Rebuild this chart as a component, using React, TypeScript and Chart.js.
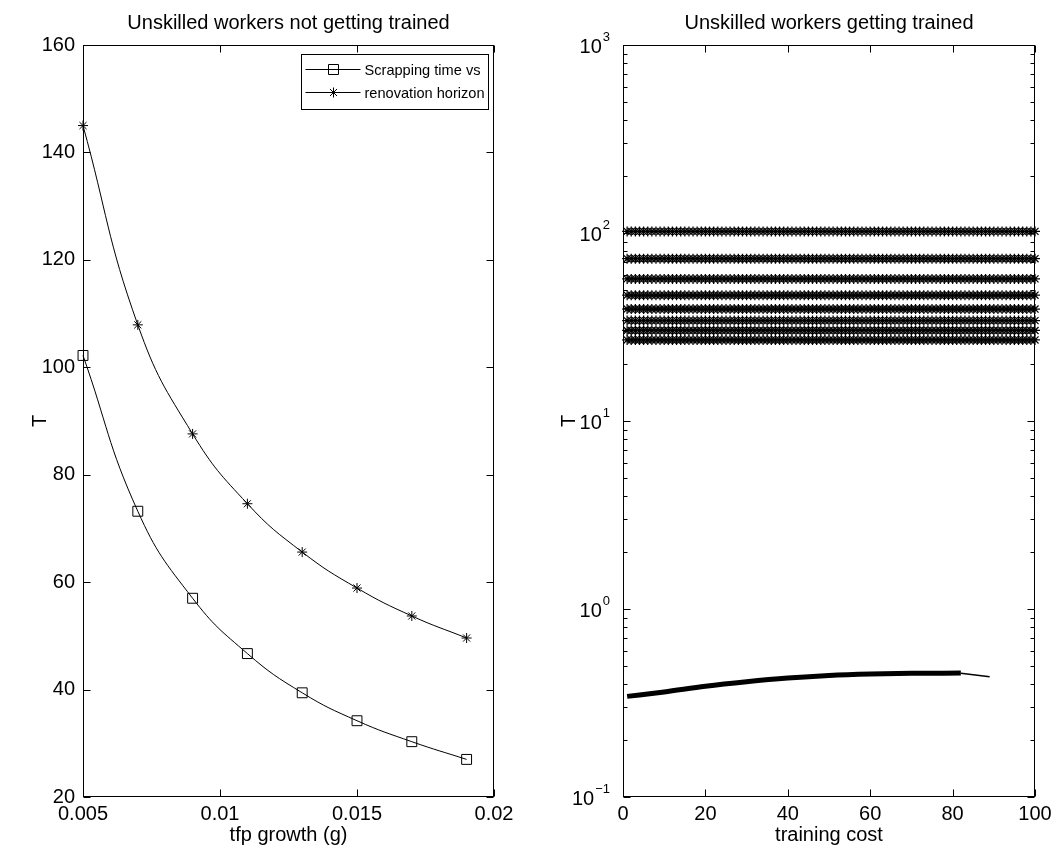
import React, { useEffect, useRef } from 'react';
import { Chart, registerables } from 'chart.js';

Chart.register(...registerables);

const FONT = "'Liberation Sans', Arial, Helvetica, sans-serif";

// ---------- Left panel: unskilled workers not getting trained ----------
const tfpGrowth = [0.005, 0.007, 0.009, 0.011, 0.013, 0.015, 0.017, 0.019];
const scrappingTime = [102.2, 73.2, 57.0, 46.7, 39.4, 34.2, 30.3, 27.0];
const renovationHorizon = [145.0, 107.9, 87.6, 74.6, 65.6, 58.9, 53.7, 49.6];
const leftXTicks = [0.005, 0.01, 0.015, 0.02];
const leftYTicks = [20, 40, 60, 80, 100, 120, 140, 160];
const legendLabels = ['Scrapping time vs', 'renovation horizon'];

// ---------- Right panel: unskilled workers getting trained ----------
const trainingCosts = Array.from({ length: 100 }, (_, i) => i + 1);
const trainedLevels = [102.0, 73.0, 57.0, 46.7, 39.4, 34.2, 30.3, 27.0];
const lowCost = [1, 10, 20, 30, 40, 50, 60, 70, 82];
const lowT = [0.343, 0.362, 0.388, 0.41, 0.429, 0.443, 0.451, 0.455, 0.456];
const tailCost = [82, 89];
const tailT = [0.455, 0.436];
const rightXTicks = [0, 20, 40, 60, 80, 100];
const rightLogPowers = [-1, 0, 1, 2, 3];

type FrameCfg = {
  title: string;
  xTicks: number[];
  yTicks: number[];
  yMinor?: number[];
  logPowers?: number[];
  legend?: boolean;
};

function drawStar(ctx: CanvasRenderingContext2D, x: number, y: number, r: number) {
  const d = r * Math.SQRT1_2;
  ctx.moveTo(x - r, y); ctx.lineTo(x + r, y);
  ctx.moveTo(x, y - r); ctx.lineTo(x, y + r);
  ctx.moveTo(x - d, y - d); ctx.lineTo(x + d, y + d);
  ctx.moveTo(x - d, y + d); ctx.lineTo(x + d, y - d);
}

function framePlugin(cfg: FrameCfg) {
  return {
    id: 'matlabFrame',
    afterDraw(chart: any) {
      const ctx: CanvasRenderingContext2D = chart.ctx;
      const { left, right, top, bottom } = chart.chartArea;
      const xs = chart.scales.x;
      const ys = chart.scales.y;
      const L = Math.round(left) + 0.5;
      const R = Math.round(right) - 0.5;
      const T = Math.round(top) + 0.5;
      const B = Math.round(bottom) - 0.5;
      const major = 7;
      const minor = 4;
      ctx.save();
      ctx.strokeStyle = '#000';
      ctx.lineWidth = 1;
      ctx.beginPath();
      for (const v of cfg.xTicks) {
        const px = Math.round(xs.getPixelForValue(v)) + 0.5;
        ctx.moveTo(px, B); ctx.lineTo(px, B - major);
        ctx.moveTo(px, T); ctx.lineTo(px, T + major);
      }
      const yTick = (v: number, len: number) => {
        const py = Math.round(ys.getPixelForValue(v)) + 0.5;
        ctx.moveTo(L, py); ctx.lineTo(L + len, py);
        ctx.moveTo(R, py); ctx.lineTo(R - len, py);
      };
      cfg.yTicks.forEach((v) => yTick(v, major));
      (cfg.yMinor || []).forEach((v) => yTick(v, minor));
      ctx.stroke();
      ctx.strokeRect(L, T, R - L, B - T);

      // log tick labels with superscript exponents
      if (cfg.logPowers) {
        for (const p of cfg.logPowers) {
          const py = ys.getPixelForValue(Math.pow(10, p));
          const exp = p < 0 ? '\u2212' + Math.abs(p) : String(p);
          ctx.font = `20px ${FONT}`;
          const wBase = ctx.measureText('10').width;
          ctx.font = `13px ${FONT}`;
          const wExp = ctx.measureText(exp).width;
          const endX = left - 13;
          const startX = endX - wExp - wBase - 1;
          ctx.fillStyle = '#000';
          ctx.textAlign = 'left';
          ctx.textBaseline = 'middle';
          ctx.font = `20px ${FONT}`;
          ctx.fillText('10', startX, py + 2);
          ctx.textBaseline = 'alphabetic';
          ctx.font = `13px ${FONT}`;
          ctx.fillText(exp, startX + wBase + 1, py - 4);
        }
      }

      // title
      ctx.fillStyle = '#000';
      ctx.font = `20px ${FONT}`;
      ctx.textAlign = 'center';
      ctx.textBaseline = 'middle';
      ctx.fillText(cfg.title, (left + right) / 2, top - 22);

      // legend
      if (cfg.legend) {
        const bw = 187;
        const bh = 55;
        const bx = Math.round(right - bw - 6) + 0.5;
        const by = Math.round(top + 9) + 0.5;
        ctx.fillStyle = '#fff';
        ctx.fillRect(bx, by, bw, bh);
        ctx.strokeRect(bx, by, bw, bh);
        const rows = [by + 15, by + 38];
        ctx.beginPath();
        rows.forEach((ry) => {
          ctx.moveTo(bx + 4, ry); ctx.lineTo(bx + 59, ry);
        });
        ctx.stroke();
        ctx.beginPath();
        ctx.rect(bx + 27, rows[0] - 5, 10, 10);
        drawStar(ctx, bx + 32, rows[1], 5);
        ctx.stroke();
        ctx.fillStyle = '#000';
        ctx.font = `14.6px ${FONT}`;
        ctx.textAlign = 'left';
        ctx.textBaseline = 'middle';
        legendLabels.forEach((t, i) => ctx.fillText(t, bx + 63, rows[i] + 1));
      }
      ctx.restore();
    },
  };
}

const noPad = (s: any) => {
  s.paddingLeft = 0;
  s.paddingRight = 0;
  s.paddingTop = 0;
  s.paddingBottom = 0;
};

function LeftChart() {
  const ref = useRef<HTMLCanvasElement | null>(null);
  useEffect(() => {
    if (!ref.current) return;
    const chart = new Chart(ref.current, {
      type: 'line',
      data: {
        datasets: [
          {
            label: legendLabels[0],
            data: tfpGrowth.map((x, i) => ({ x, y: scrappingTime[i] })),
            borderColor: '#000',
            borderWidth: 1,
            pointStyle: 'rect',
            pointRadius: 7,
            pointBorderWidth: 1,
            pointBorderColor: '#000',
            pointBackgroundColor: 'rgba(0,0,0,0)',
            tension: 0.45,
            clip: false,
          },
          {
            label: legendLabels[1],
            data: tfpGrowth.map((x, i) => ({ x, y: renovationHorizon[i] })),
            borderColor: '#000',
            borderWidth: 1,
            pointStyle: 'star',
            pointRadius: 5,
            pointBorderWidth: 1,
            pointBorderColor: '#000',
            pointBackgroundColor: 'rgba(0,0,0,0)',
            tension: 0.45,
            clip: false,
          },
        ] as any,
      },
      options: {
        animation: false,
        responsive: false,
        devicePixelRatio: 1,
        layout: { padding: { left: 0, top: 45, right: 33, bottom: 0 } },
        plugins: { legend: { display: false }, title: { display: false }, tooltip: { enabled: false } },
        scales: {
          x: {
            type: 'linear',
            min: 0.005,
            max: 0.02,
            grid: { display: false, drawTicks: false },
            border: { display: false },
            afterBuildTicks: (s: any) => { s.ticks = leftXTicks.map((value) => ({ value })); },
            afterFit: (s: any) => { s.height = 55; noPad(s); },
            ticks: {
              color: '#000',
              padding: 5,
              maxRotation: 0,
              autoSkip: false,
              font: { family: FONT, size: 20 },
              callback: (v: any) => String(v),
            },
            title: {
              display: true,
              text: 'tfp growth (g)',
              color: '#000',
              font: { family: FONT, size: 20 },
              padding: { top: 0, bottom: 5 },
            },
          },
          y: {
            type: 'linear',
            min: 20,
            max: 160,
            grid: { display: false, drawTicks: false },
            border: { display: false },
            afterBuildTicks: (s: any) => { s.ticks = leftYTicks.map((value) => ({ value })); },
            afterFit: (s: any) => { s.width = 83; noPad(s); },
            ticks: {
              color: '#000',
              padding: 8,
              autoSkip: false,
              font: { family: FONT, size: 20 },
            },
            title: {
              display: true,
              text: 'T',
              color: '#000',
              font: { family: FONT, size: 20 },
              padding: { top: 28, bottom: 0 },
            },
          },
        },
      } as any,
      plugins: [
        framePlugin({
          title: 'Unskilled workers not getting trained',
          xTicks: leftXTicks,
          yTicks: leftYTicks,
          legend: true,
        }),
      ],
    });
    return () => chart.destroy();
  }, []);
  return (
    <canvas
      ref={ref}
      width={527}
      height={852}
      style={{ position: 'absolute', left: 0, top: 0, width: 527, height: 852 }}
    />
  );
}

function RightChart() {
  const ref = useRef<HTMLCanvasElement | null>(null);
  useEffect(() => {
    if (!ref.current) return;
    const starSets = trainedLevels.map((lvl) => ({
      data: trainingCosts.map((x) => ({ x, y: lvl })),
      borderColor: '#000',
      borderWidth: 1,
      pointStyle: 'star',
      pointRadius: 5,
      pointBorderWidth: 1.25,
      pointBorderColor: '#000',
      pointBackgroundColor: 'rgba(0,0,0,0)',
      clip: false,
    }));
    const minorTicks: number[] = [];
    for (let p = -1; p < 3; p++) {
      for (let m = 2; m <= 9; m++) minorTicks.push(m * Math.pow(10, p));
    }
    const chart = new Chart(ref.current, {
      type: 'line',
      data: {
        datasets: [
          ...starSets,
          {
            data: lowCost.map((x, i) => ({ x, y: lowT[i] })),
            borderColor: '#000',
            borderWidth: 5,
            pointRadius: 0,
            cubicInterpolationMode: 'monotone',
          },
          {
            data: tailCost.map((x, i) => ({ x, y: tailT[i] })),
            borderColor: '#000',
            borderWidth: 1.5,
            pointRadius: 0,
          },
        ] as any,
      },
      options: {
        animation: false,
        responsive: false,
        devicePixelRatio: 1,
        layout: { padding: { left: 0, top: 45, right: 18, bottom: 0 } },
        plugins: { legend: { display: false }, title: { display: false }, tooltip: { enabled: false } },
        scales: {
          x: {
            type: 'linear',
            min: 0,
            max: 100,
            grid: { display: false, drawTicks: false },
            border: { display: false },
            afterBuildTicks: (s: any) => { s.ticks = rightXTicks.map((value) => ({ value })); },
            afterFit: (s: any) => { s.height = 55; noPad(s); },
            ticks: {
              color: '#000',
              padding: 5,
              maxRotation: 0,
              autoSkip: false,
              font: { family: FONT, size: 20 },
            },
            title: {
              display: true,
              text: 'training cost',
              color: '#000',
              font: { family: FONT, size: 20 },
              padding: { top: 0, bottom: 5 },
            },
          },
          y: {
            type: 'logarithmic',
            min: 0.1,
            max: 1000,
            grid: { display: false, drawTicks: false },
            border: { display: false },
            afterFit: (s: any) => { s.width = 96; noPad(s); },
            ticks: { display: false },
            title: {
              display: true,
              text: 'T',
              color: '#000',
              font: { family: FONT, size: 20 },
              padding: { top: 30, bottom: 0 },
            },
          },
        },
      } as any,
      plugins: [
        framePlugin({
          title: 'Unskilled workers getting trained',
          xTicks: rightXTicks,
          yTicks: rightLogPowers.map((p) => Math.pow(10, p)),
          yMinor: minorTicks,
          logPowers: rightLogPowers,
        }),
      ],
    });
    return () => chart.destroy();
  }, []);
  return (
    <canvas
      ref={ref}
      width={526}
      height={852}
      style={{ position: 'absolute', left: 527, top: 0, width: 526, height: 852 }}
    />
  );
}

export default function App() {
  return (
    <div style={{ position: 'absolute', left: 0, top: 0, width: 1053, height: 852, background: '#fff', overflow: 'hidden' }}>
      <LeftChart />
      <RightChart />
    </div>
  );
}
